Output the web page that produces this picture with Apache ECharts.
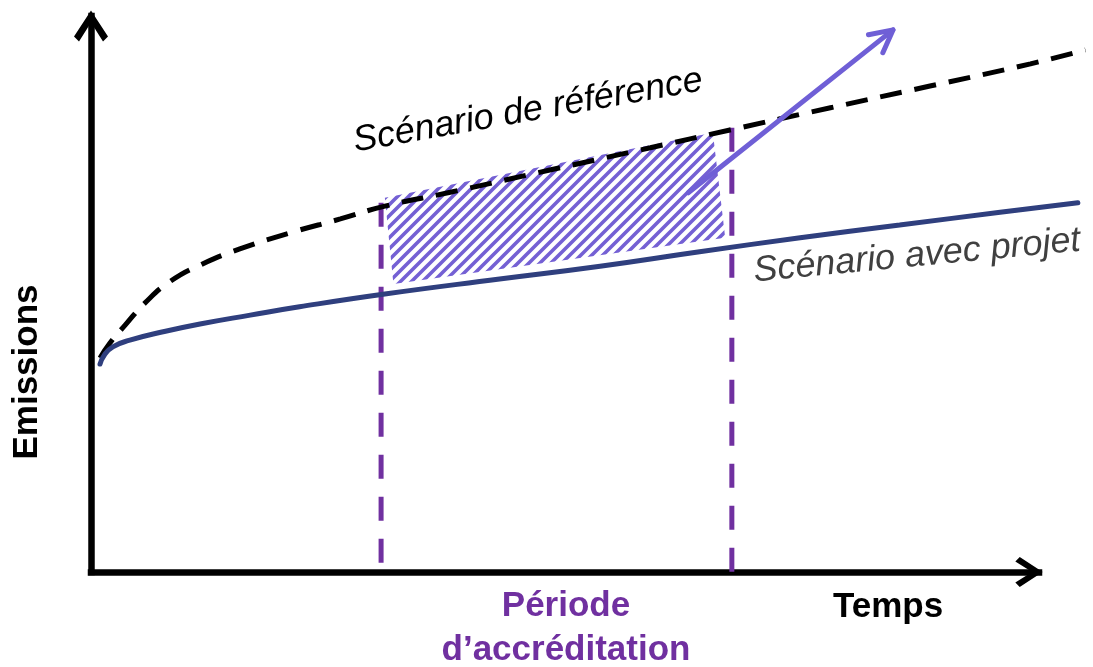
<!DOCTYPE html>
<html>
<head>
<meta charset="utf-8">
<script src="https://cdn.jsdelivr.net/npm/echarts@6/dist/echarts.min.js"></script>
<style>
  html, body { margin: 0; padding: 0; background: #fff; }
  #chart { width: 1093px; height: 667px; }
</style>
</head>
<body>
<div id="chart"></div>
<script>
// scénario de référence (dashed)
const refX = [0.95, 2.0, 3.6, 5.7, 8.3, 11.5, 15.7, 21.0, 26.3, 31.0, 37.9, 48.4, 59.0, 67.4, 78.0, 88.5, 99.1, 104.9];
const refY = [38.5, 41.2, 44.4, 48.4, 52.2, 55.2, 58.1, 61.0, 63.5, 65.8, 68.3, 72.3, 76.3, 79.5, 83.5, 87.4, 91.4, 93.9];
// scénario avec projet (solid)
const projX = [0.95, 1.4, 2.3, 4.1, 7.6, 11.5, 16.8, 22.0, 31.0, 43.1, 53.7, 64.2, 74.8, 85.3, 95.9, 104.1];
const projY = [37.4, 39.0, 40.5, 41.7, 43.2, 44.6, 46.2, 47.7, 50.0, 52.7, 55.0, 57.6, 60.1, 62.4, 64.7, 66.4];
// hatched reductions (corner points)
const hatchX = [31.0, 65.6, 66.9, 31.9];
const hatchY = [67.3, 79.0, 60.1, 51.8];
// période d'accréditation bounds
const periodX = [30.6, 67.6];
const periodTop = [66.4, 79.9];
// purple arrow
const arrowFrom = [63.0, 68.2];
const arrowTo = [84.6, 97.5];

const FONT = "'Liberation Sans', Arial, sans-serif";
const chevron = 'path://M17,0 L34,26 L29,31 L17,12 L5,31 L0,26 Z';

//hatch pattern tile
function makeHatch() {
    const s = 11;
    const c = document.createElement('canvas');
    c.width = s; c.height = s;
    const ctx = c.getContext('2d');
    ctx.strokeStyle = '#7460D4';
    ctx.lineWidth = 3.6;
    ctx.beginPath();
    ctx.moveTo(0, s); ctx.lineTo(s, 0);
    ctx.moveTo(-s / 2, s / 2); ctx.lineTo(s / 2, -s / 2);
    ctx.moveTo(s / 2, s * 1.5); ctx.lineTo(s * 1.5, s / 2);
    ctx.stroke();
    return c;
}
const hatchPattern = { image: makeHatch(), repeat: 'repeat' };

const hidden = {
    axisLine: { show: false },
    axisTick: { show: false },
    axisLabel: { show: false },
    splitLine: { show: false }
};

function arrowAxis(size) {
    return {
        type: 'value', min: 0, max: 100, gridIndex: 0,
        axisTick: { show: false },
        axisLabel: { show: false },
        splitLine: { show: false },
        axisLine: {
            show: true, onZero: false,
            symbol: ['none', chevron], symbolSize: size, symbolOffset: [0, -10],
            lineStyle: { color: '#000', width: 6.5, cap: 'square' }
        }
    };
}

const periodSeries = periodX.map((x, i) => ({
    type: 'line',
    xAxisIndex: 1, yAxisIndex: 1,
    symbol: 'none',
    z: 3,
    silent: true,
    lineStyle: { color: '#7030A0', width: 5, type: [24, 18] },
    data: [[x, periodTop[i]], [x, 0]]
}));

let myChart = echarts.init(document.getElementById('chart'));

let option = {
    animation: false,
    //grid 0: axes, grid 1: same scale but wider so curves pass the arrow
    grid: [
        { left: 91, right: 54, top: 16, bottom: 95 },
        { left: 91, right: 6.6, top: 16, bottom: 95 }
    ],
    xAxis: [
        arrowAxis([30, 32]),
        Object.assign({ type: 'value', min: 0, max: 105, gridIndex: 1 }, hidden)
    ],
    yAxis: [
        arrowAxis([34, 32]),
        Object.assign({ type: 'value', min: 0, max: 100, gridIndex: 1 }, hidden)
    ],
    series: [
        {
            //zone hachurée
            type: 'custom',
            xAxisIndex: 1, yAxisIndex: 1,
            z: 1,
            silent: true,
            data: hatchX.map((x, i) => [x, hatchY[i]]),
            renderItem: function (params, api) {
                if (params.dataIndex !== 0) return;
                const pts = hatchX.map((x, i) => api.coord([x, hatchY[i]]));
                return {
                    type: 'polygon',
                    shape: { points: pts },
                    style: { fill: hatchPattern, stroke: null }
                };
            }
        },
        ...periodSeries,
        {
            type: 'line',
            xAxisIndex: 1, yAxisIndex: 1,
            symbol: 'none',
            smooth: 0.5,
            z: 4,
            lineStyle: { color: '#000', width: 5, type: [22, 13] },
            data: refX.map((x, i) => [x, refY[i]])
        },
        {
            type: 'line',
            xAxisIndex: 1, yAxisIndex: 1,
            symbol: 'none',
            smooth: 0.5,
            z: 4,
            lineStyle: { color: '#2F3F7E', width: 5, cap: 'round' },
            data: projX.map((x, i) => [x, projY[i]])
        },
        {
            //flèche
            type: 'custom',
            xAxisIndex: 1, yAxisIndex: 1,
            z: 6,
            silent: true,
            data: [[arrowFrom[0], arrowFrom[1], arrowTo[0], arrowTo[1]]],
            renderItem: function (params, api) {
                const p0 = api.coord([api.value(0), api.value(1)]);
                const p1 = api.coord([api.value(2), api.value(3)]);
                const ang = Math.atan2(p0[1] - p1[1], p0[0] - p1[0]);
                const len = 25, spread = 27.5 * Math.PI / 180;
                const w1 = [p1[0] + len * Math.cos(ang + spread), p1[1] + len * Math.sin(ang + spread)];
                const w2 = [p1[0] + len * Math.cos(ang - spread), p1[1] + len * Math.sin(ang - spread)];
                const st = { stroke: '#6F5FD6', lineWidth: 5, lineCap: 'round', lineJoin: 'round', fill: 'none' };
                return {
                    type: 'group',
                    children: [
                        { type: 'line', shape: { x1: p0[0], y1: p0[1], x2: p1[0], y2: p1[1] }, style: st },
                        { type: 'polyline', shape: { points: [w1, p1, w2] }, style: st }
                    ]
                };
            }
        }
    ],
    graphic: [
        {
            type: 'text', x: 27, y: 372, rotation: Math.PI / 2,
            style: { text: 'Emissions', font: 'bold 35px ' + FONT, fill: '#000', align: 'center', verticalAlign: 'middle', textAlign: 'center', textVerticalAlign: 'middle' }
        },
        {
            type: 'text', x: 888, y: 607,
            style: { text: 'Temps', font: 'bold 35px ' + FONT, fill: '#000', align: 'center', verticalAlign: 'middle', textAlign: 'center', textVerticalAlign: 'middle' }
        },
        {
            type: 'text', x: 566, y: 628,
            style: { text: 'Période\nd’accréditation', font: 'bold 35px ' + FONT, lineHeight: 44, fill: '#7030A0', align: 'center', verticalAlign: 'middle', textAlign: 'center', textVerticalAlign: 'middle' }
        },
        {
            type: 'text', x: 528, y: 111, rotation: 10 * Math.PI / 180,
            style: { text: 'Scénario de référence', font: 'italic 36px ' + FONT, fill: '#000', align: 'center', verticalAlign: 'middle', textAlign: 'center', textVerticalAlign: 'middle' }
        },
        {
            type: 'text', x: 917, y: 256, rotation: 5.4 * Math.PI / 180,
            style: { text: 'Scénario avec projet', font: 'italic 36px ' + FONT, fill: '#404040', align: 'center', verticalAlign: 'middle', textAlign: 'center', textVerticalAlign: 'middle' }
        }
    ]
};

myChart.setOption(option);
</script>
</body>
</html>
